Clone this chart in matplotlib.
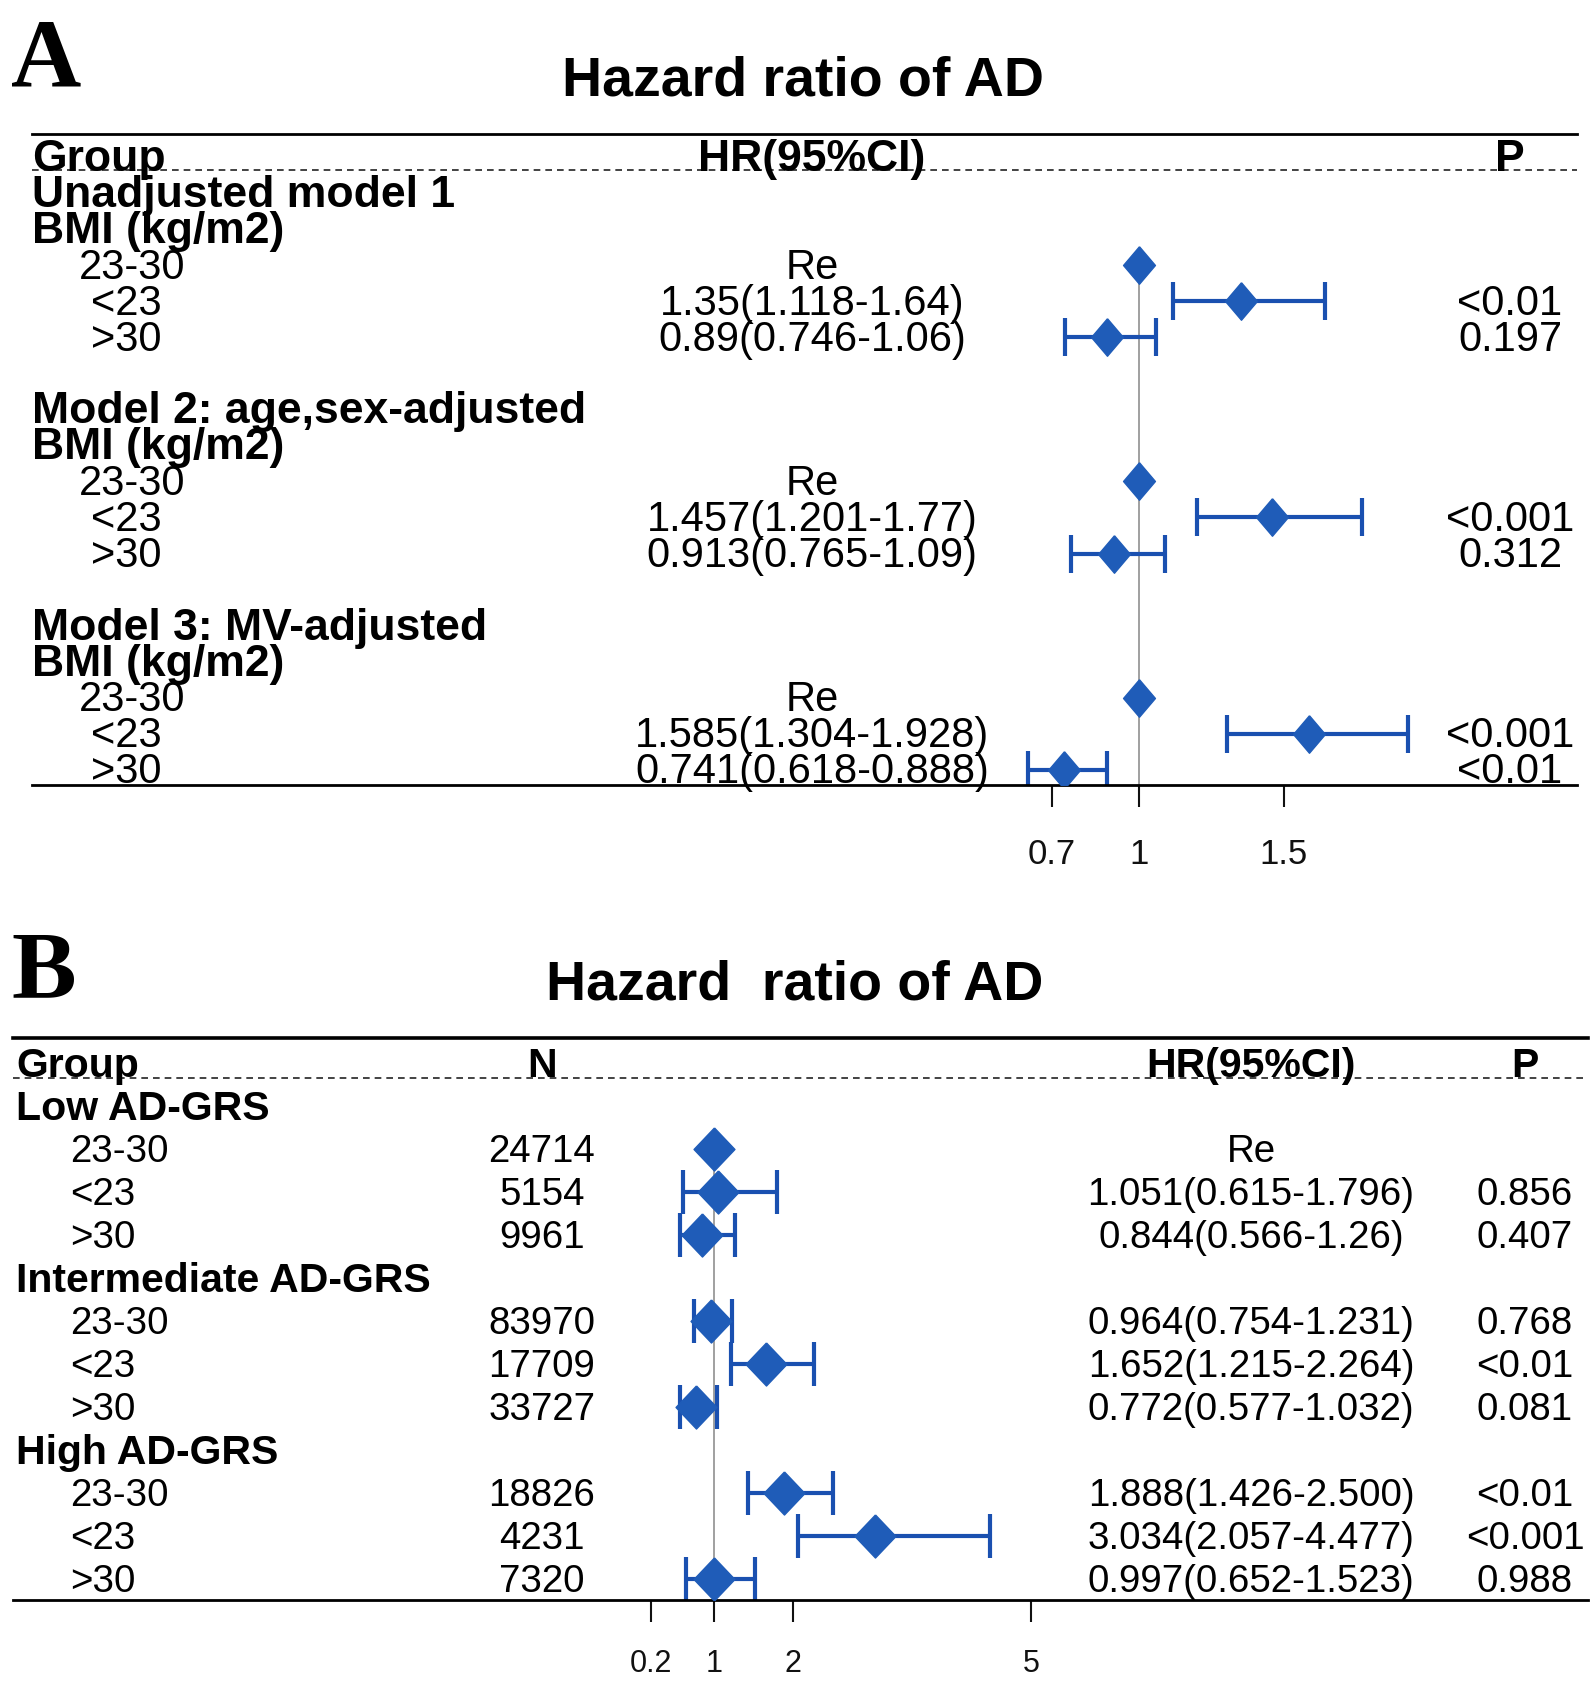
import numpy as np
import matplotlib.pyplot as plt
from matplotlib.transforms import blended_transform_factory

plt.rcParams['font.family'] = ['Liberation Sans', 'DejaVu Sans']

# =========================================================
# data
# =========================================================
bmi_groups = ["23-30", "<23", ">30"]

# panel A: three models
models_a = ["Unadjusted model 1", "Model 2: age,sex-adjusted", "Model 3: MV-adjusted"]
hr_a = [[1.0, 1.35, 0.89], [1.0, 1.457, 0.913], [1.0, 1.585, 0.741]]
lo_a = [[np.nan, 1.118, 0.746], [np.nan, 1.201, 0.765], [np.nan, 1.304, 0.618]]
hi_a = [[np.nan, 1.64, 1.06], [np.nan, 1.77, 1.09], [np.nan, 1.928, 0.888]]
hr_txt_a = [["Re", "1.35(1.118-1.64)", "0.89(0.746-1.06)"],
            ["Re", "1.457(1.201-1.77)", "0.913(0.765-1.09)"],
            ["Re", "1.585(1.304-1.928)", "0.741(0.618-0.888)"]]
p_a = [["", "<0.01", "0.197"], ["", "<0.001", "0.312"], ["", "<0.001", "<0.01"]]
ticks_a = [0.7, 1, 1.5]

# panel B: AD-GRS strata
strata_b = ["Low AD-GRS", "Intermediate AD-GRS", "High AD-GRS"]
n_b = [[24714, 5154, 9961], [83970, 17709, 33727], [18826, 4231, 7320]]
hr_b = [[1.0, 1.051, 0.844], [0.964, 1.652, 0.772], [1.888, 3.034, 0.997]]
lo_b = [[np.nan, 0.615, 0.566], [0.754, 1.215, 0.577], [1.426, 2.057, 0.652]]
hi_b = [[np.nan, 1.796, 1.26], [1.231, 2.264, 1.032], [2.500, 4.477, 1.523]]
hr_txt_b = [["Re", "1.051(0.615-1.796)", "0.844(0.566-1.26)"],
            ["0.964(0.754-1.231)", "1.652(1.215-2.264)", "0.772(0.577-1.032)"],
            ["1.888(1.426-2.500)", "3.034(2.057-4.477)", "0.997(0.652-1.523)"]]
p_b = [["", "0.856", "0.407"], ["0.768", "<0.01", "0.081"], ["<0.01", "<0.001", "0.988"]]
ticks_b = [0.2, 1, 2, 5]

# =========================================================
# styling
# =========================================================
W, H = 1594, 1682
blue = '#1f5cb8'
bar_blue = '#1a50b0'
fig = plt.figure(figsize=(W / 100, H / 100), dpi=100)


def px_axes(x0, x1, y_top, y_bot):
    return fig.add_axes([x0 / W, 1 - y_bot / H, (x1 - x0) / W, (y_bot - y_top) / H])


def setup(ax, xlim, ylim, ticks, tick_fs, pad, top_lw):
    ax.set_xlim(*xlim)
    ax.set_ylim(*ylim)
    for s in ['left', 'right']:
        ax.spines[s].set_visible(False)
    ax.spines['top'].set_linewidth(top_lw)
    ax.spines['bottom'].set_linewidth(2)
    ax.set_yticks([])
    ax.set_xticks(ticks)
    ax.set_xticklabels([f"{t:g}" for t in ticks], fontsize=tick_fs)
    ax.tick_params(axis='x', length=16, width=1.5, pad=pad, colors='#111111')
    ax.patch.set_visible(False)


def diamond(w):
    return [(0, 1), (w, 0), (0, -1), (-w, 0), (0, 1)]


# =========================================================
# panel A
# =========================================================
row0, step = 193, 36.05
ylim_a = ((785 - row0) / step + 1, (134 - row0) / step + 1)
xlim_a = (1 - (1139 - 32) / 290, 1 + (1577 - 1139) / 290)
axA = px_axes(32, 1577, 134, 785)
setup(axA, xlim_a, ylim_a, ticks_a, 25, 22, 2)
trA = blended_transform_factory(fig.transFigure, axA.transData)
dy = 0.07  # small text nudge downward

fs_a, fsb_a = 30, 32
axA.text(32 / W, dy, "Group", transform=trA, fontsize=fsb_a, fontweight='bold', va='center')
axA.text(812 / W, dy, "HR(95%CI)", transform=trA, fontsize=fsb_a, fontweight='bold', va='center', ha='center')
axA.text(1510 / W, dy, "P", transform=trA, fontsize=fsb_a, fontweight='bold', va='center', ha='center')
axA.axhline(0.36, color='#222222', lw=1.2, ls=(0, (4, 3)))

ys_a, hrs, los, his = [], [], [], []
for m, name in enumerate(models_a):
    base = 1 + 6 * m
    axA.text(32 / W, base + dy, name, transform=trA, fontsize=fsb_a, fontweight='bold', va='center')
    axA.text(32 / W, base + 1 + dy, "BMI (kg/m2)", transform=trA, fontsize=fsb_a, fontweight='bold', va='center')
    for g, grp in enumerate(bmi_groups):
        y = base + 2 + g
        gx = 79 if g == 0 else 91
        axA.text(gx / W, y + dy, grp, transform=trA, fontsize=fs_a, va='center')
        axA.text(812 / W, y + dy, hr_txt_a[m][g], transform=trA, fontsize=fs_a, va='center', ha='center')
        axA.text(1510 / W, y + dy, p_a[m][g], transform=trA, fontsize=fs_a, va='center', ha='center')
        ys_a.append(y)
        hrs.append(hr_a[m][g])
        los.append(lo_a[m][g])
        his.append(hi_a[m][g])

hrs, los, his = np.array(hrs), np.array(los), np.array(his)
axA.plot([1, 1], [ys_a[0], ylim_a[0]], color='#999999', lw=1.3, zorder=1)
axA.errorbar(hrs, ys_a, xerr=[hrs - los, his - hrs], fmt='none', ecolor=bar_blue,
             elinewidth=3, capsize=14, capthick=3, zorder=2)
axA.plot(hrs, ys_a, ls='none', marker=diamond(0.85), ms=27, color=blue,
         markeredgecolor=blue, zorder=3)

fig.text(11 / W, 1 - 86 / H, "A", fontsize=70, fontweight='bold',
         family=['Liberation Serif', 'DejaVu Serif'], va='baseline')
fig.text(803 / W, 1 - 96 / H, "Hazard ratio of AD", fontsize=40, fontweight='bold',
         ha='center', va='baseline')

# =========================================================
# panel B
# =========================================================
row0, step = 1105.5, 43
ylim_b = ((1600 - row0) / step + 1, (1038 - row0) / step + 1)
xlim_b = (1 - (714 - 13) / 79.3, 1 + (1588 - 714) / 79.3)
axB = px_axes(13, 1588, 1038, 1600)
setup(axB, xlim_b, ylim_b, ticks_b, 22, 19, 2.6)
trB = blended_transform_factory(fig.transFigure, axB.transData)
dy = 0.07

fs_b, fsb_b = 27.7, 29.5
for x, lab, ha in [(16, "Group", 'left'), (542, "N", 'center'),
                   (1251, "HR(95%CI)", 'center'), (1525, "P", 'center')]:
    axB.text(x / W, dy, lab, transform=trB, fontsize=fsb_b, fontweight='bold', va='center', ha=ha)
axB.axhline(0.36, color='#222222', lw=1.2, ls=(0, (4, 3)))

ys_b, hrs, los, his = [], [], [], []
for s, name in enumerate(strata_b):
    base = 1 + 4 * s
    axB.text(16 / W, base + dy, name, transform=trB, fontsize=fsb_b, fontweight='bold', va='center')
    for g, grp in enumerate(bmi_groups):
        y = base + 1 + g
        axB.text(70 / W, y + dy, grp, transform=trB, fontsize=fs_b, va='center')
        axB.text(542 / W, y + dy, str(n_b[s][g]), transform=trB, fontsize=fs_b, va='center', ha='center')
        axB.text(1251 / W, y + dy, hr_txt_b[s][g], transform=trB, fontsize=fs_b, va='center', ha='center')
        axB.text(1525 / W, y + dy, p_b[s][g], transform=trB, fontsize=fs_b, va='center', ha='center')
        ys_b.append(y)
        hrs.append(hr_b[s][g])
        los.append(lo_b[s][g])
        his.append(hi_b[s][g])

hrs, los, his = np.array(hrs), np.array(los), np.array(his)
axB.plot([1, 1], [ys_b[0], ylim_b[0]], color='#999999', lw=1.3, zorder=1)
axB.errorbar(hrs, ys_b, xerr=[hrs - los, his - hrs], fmt='none', ecolor=bar_blue,
             elinewidth=3, capsize=15.5, capthick=3, zorder=2)
axB.plot(hrs, ys_b, ls='none', marker=diamond(0.95), ms=31, color=blue,
         markeredgecolor=blue, zorder=3)

fig.text(11 / W, 1 - 998 / H, "B", fontsize=70, fontweight='bold',
         family=['Liberation Serif', 'DejaVu Serif'], va='baseline')
fig.text(795 / W, 1 - 999 / H, "Hazard  ratio of AD", fontsize=40, fontweight='bold',
         ha='center', va='baseline')

fig.savefig('out.png', dpi=100)
